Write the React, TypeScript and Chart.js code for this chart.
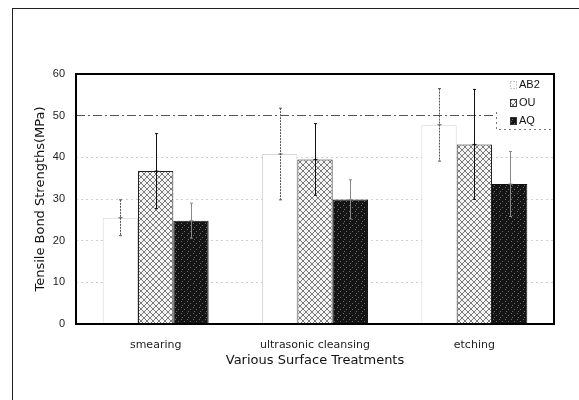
import { useEffect, useRef } from "react";
import { Chart, registerables } from "chart.js";
Chart.register(...registerables);

const categories = ["smearing", "ultrasonic cleansing", "etching"];
const seriesNames = ["AB2", "OU", "AQ"];
const ab2Values = [25.5, 40.8, 47.8];
const ab2Errors = [4.3, 11, 8.7];
const ouValues = [36.7, 39.5, 43.1];
const ouErrors = [9, 8.6, 13.2];
const aqValues = [24.8, 29.9, 33.6];
const aqErrors = [4.2, 4.7, 7.8];
const yTickValues = [0, 10, 20, 30, 40, 50, 60];
const yTitle = "Tensile Bond Strengths(MPa)";
const xTitle = "Various Surface Treatments";

const FONT = "'Liberation Sans', Arial, sans-serif";
const WIDE = "'DejaVu Sans', sans-serif";

function makePattern(ctx: CanvasRenderingContext2D, kind: string) {
  const c = document.createElement("canvas");
  c.width = 6;
  c.height = 6;
  const g = c.getContext("2d") as CanvasRenderingContext2D;
  if (kind === "ou") {
    g.fillStyle = "#f4f4f4";
    g.fillRect(0, 0, 6, 6);
    g.fillStyle = "#7a7a7a";
    for (let i = 0; i < 6; i++) {
      g.fillRect(i, i, 1, 1);
      g.fillRect(5 - i, i, 1, 1);
    }
  } else {
    g.fillStyle = "#151515";
    g.fillRect(0, 0, 6, 6);
    g.fillStyle = "#6a6a6a";
    g.fillRect(1, 1, 1, 1);
    g.fillRect(4, 3, 1, 1);
    g.fillRect(2, 5, 1, 1);
  }
  return ctx.createPattern(c, "repeat") as CanvasPattern;
}

const errorBarPlugin = {
  id: "errorBars",
  afterDatasetsDraw(chart: any) {
    const ctx = chart.ctx;
    const yScale = chart.scales.y;
    chart.data.datasets.forEach((ds: any, i: number) => {
      const meta = chart.getDatasetMeta(i);
      meta.data.forEach((bar: any, j: number) => {
        const v = ds.data[j];
        const e = ds.errors[j];
        const x = Math.round(bar.x) + 0.5;
        const yT = yScale.getPixelForValue(v + e);
        const yB = yScale.getPixelForValue(v - e);
        const yM = yScale.getPixelForValue(v);
        ctx.save();
        ctx.strokeStyle = i === 0 ? "#555" : i === 2 ? "#888" : "#111";
        ctx.lineWidth = 1;
        if (i === 0) ctx.setLineDash([2, 1]);
        ctx.beginPath();
        ctx.moveTo(x, yT);
        ctx.lineTo(x, yB);
        ctx.stroke();
        ctx.setLineDash([]);
        ctx.beginPath();
        ctx.moveTo(x - 1.5, yT);
        ctx.lineTo(x + 1.5, yT);
        ctx.moveTo(x - 1.5, yB);
        ctx.lineTo(x + 1.5, yB);
        ctx.moveTo(x - 2, yM);
        ctx.lineTo(x + 2, yM);
        ctx.stroke();
        ctx.restore();
      });
    });
  },
};

const legendPlugin = {
  id: "insideLegend",
  afterDatasetsDraw(chart: any) {
    const ctx = chart.ctx;
    const a = chart.chartArea;
    const w = 58;
    const h = 55;
    const x0 = a.right - w;
    const y0 = a.top;
    ctx.save();
    ctx.fillStyle = "#ffffff";
    ctx.fillRect(x0, y0, w, h);
    ctx.strokeStyle = "#777";
    ctx.lineWidth = 1;
    ctx.setLineDash([2, 3]);
    ctx.beginPath();
    ctx.moveTo(x0 + 0.5, y0 + 38);
    ctx.lineTo(x0 + 0.5, y0 + h + 0.5);
    ctx.lineTo(a.right, y0 + h + 0.5);
    ctx.stroke();
    ctx.setLineDash([]);
    ctx.font = "11px " + FONT;
    ctx.textBaseline = "middle";
    chart.data.datasets.forEach((ds: any, i: number) => {
      const cy = y0 + 11 + i * 18;
      const sx = x0 + 14;
      if (i === 0) {
        ctx.strokeStyle = "#999";
        ctx.setLineDash([1, 2]);
        ctx.strokeRect(sx + 0.5, cy - 3.5, 6, 7);
        ctx.setLineDash([]);
      } else {
        ctx.fillStyle = ds.backgroundColor;
        ctx.fillRect(sx, cy - 4, 7, 8);
        ctx.strokeStyle = "#333";
        ctx.strokeRect(sx + 0.5, cy - 3.5, 6, 7);
      }
      ctx.fillStyle = "#111";
      ctx.fillText(ds.label, sx + 9, cy);
    });
    ctx.restore();
  },
};

const framePlugin = {
  id: "frame",
  afterDraw(chart: any) {
    const ctx = chart.ctx;
    const a = chart.chartArea;
    ctx.save();
    ctx.strokeStyle = "#000";
    ctx.lineWidth = 2;
    ctx.strokeRect(a.left, a.top, a.right - a.left, a.bottom - a.top);
    ctx.restore();
  },
};

export default function App() {
  const ref = useRef<HTMLCanvasElement | null>(null);
  useEffect(() => {
    const canvas = ref.current;
    if (!canvas) return;
    const ctx = canvas.getContext("2d") as CanvasRenderingContext2D;
    const ouPat = makePattern(ctx, "ou");
    const aqPat = makePattern(ctx, "aq");
    const chart = new Chart(canvas, {
      type: "bar",
      data: {
        labels: categories,
        datasets: [
          {
            label: seriesNames[0],
            data: ab2Values,
            errors: ab2Errors,
            backgroundColor: "#ffffff",
            borderColor: "#d8d8d8",
            borderWidth: 1,
          } as any,
          {
            label: seriesNames[1],
            data: ouValues,
            errors: ouErrors,
            backgroundColor: ouPat,
            borderColor: "#222",
            borderWidth: 1,
          } as any,
          {
            label: seriesNames[2],
            data: aqValues,
            errors: aqErrors,
            backgroundColor: aqPat,
            borderColor: "#111",
            borderWidth: 1,
          } as any,
        ],
      },
      options: {
        animation: false,
        responsive: false,
        maintainAspectRatio: false,
        layout: { padding: { left: 33, right: 25, top: 74, bottom: 32 } },
        datasets: { bar: { categoryPercentage: 0.665, barPercentage: 1 } },
        plugins: {
          legend: { display: false },
          tooltip: { enabled: false },
        },
        scales: {
          x: {
            grid: { display: false, drawTicks: false },
            border: { display: false },
            ticks: { color: "#222", font: { family: WIDE, size: 11 }, padding: 15 },
            title: {
              display: true,
              text: xTitle,
              color: "#111",
              font: { family: WIDE, size: 13 },
              padding: { top: 2, bottom: 0 },
            },
            afterFit: (s: any) => {
              s.height = 44;
            },
          },
          y: {
            min: 0,
            max: 60,
            afterBuildTicks: (s: any) => {
              s.ticks = yTickValues.map((v) => ({ value: v }));
            },
            grid: {
              drawTicks: false,
              color: (c: any) => (c.tick && c.tick.value === 50 ? "#555" : "#cfcfcf"),
              lineWidth: 1,
            },
            border: {
              display: false,
              dash: (c: any) => (c.tick && c.tick.value === 50 ? [9, 3, 2, 3] : [2, 3]),
            } as any,
            ticks: { color: "#222", font: { family: FONT, size: 11 }, padding: 11 },
            title: {
              display: true,
              text: yTitle,
              color: "#111",
              font: { family: WIDE, size: 13 },
              padding: { top: 0, bottom: 0 },
            },
            afterFit: (s: any) => {
              s.width = 43;
            },
          },
        },
      } as any,
      plugins: [errorBarPlugin, legendPlugin, framePlugin],
    });
    return () => chart.destroy();
  }, []);
  return (
    <div style={{ position: "fixed", left: 0, top: 0, width: 579, height: 400, background: "#fff", overflow: "hidden" }}>
      <div
        style={{
          position: "absolute",
          left: 12,
          top: 8,
          width: 600,
          height: 420,
          borderLeft: "1px solid #222",
          borderTop: "1px solid #222",
        }}
      />
      <canvas ref={ref} width={579} height={400} style={{ position: "absolute", left: 0, top: 0 }} />
    </div>
  );
}
